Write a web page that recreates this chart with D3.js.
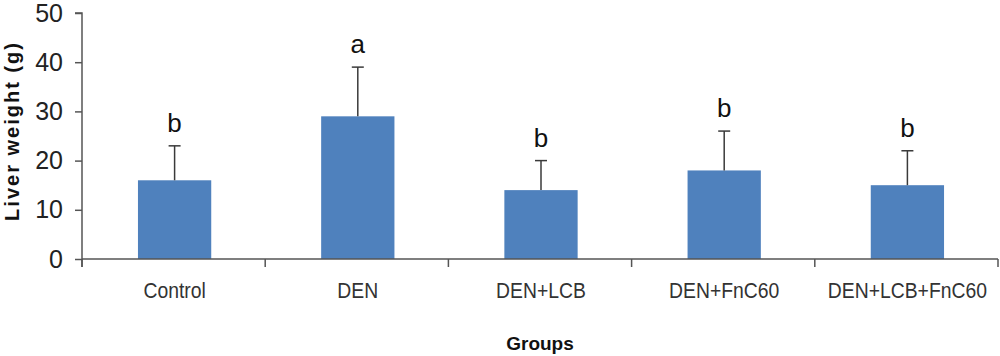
<!DOCTYPE html>
<html><head><meta charset="utf-8">
<script src="https://cdn.jsdelivr.net/npm/d3@7"></script>
<style>body{margin:0;background:#fff}svg{display:block}</style>
</head><body>
<svg id="c" width="1000" height="356"></svg>
<script>
const categories = ["Control","DEN","DEN+LCB","DEN+FnC60","DEN+LCB+FnC60"];
const means = [16, 29, 14, 18, 15];
const errors = [7, 10, 6, 8, 7];
const letters = ["b","a","b","b","b"];
const yTicks = [0,10,20,30,40,50];

const svg = d3.select("#c");
const m = {left:82, right:2, top:13, bottom:97};
const W = 1000, H = 356;
const x = d3.scaleBand().domain(categories).range([m.left, W-m.right]).padding(0);
const y = d3.scaleLinear().domain([0,50]).range([H-m.bottom, m.top]);
const axisCol = "#555";
const font = "'Liberation Sans',Arial,sans-serif";

// bars
const bw = x.bandwidth()*0.4;
svg.selectAll("rect.bar").data(categories).enter().append("rect")
  .attr("x", (d)=>x(d)+x.bandwidth()/2-bw/2+1)
  .attr("y", (d,i)=>y(means[i]))
  .attr("width", bw)
  .attr("height", (d,i)=>y(0)-y(means[i]))
  .attr("fill", "#4f81bd");

// error bars
const cx = d=>x(d)+x.bandwidth()/2+1;
const eg = svg.append("g").attr("stroke","#3a3a3a").attr("stroke-width",1.5);
categories.forEach((d,i)=>{
  eg.append("line").attr("x1",cx(d)).attr("x2",cx(d)).attr("y1",y(means[i])).attr("y2",y(means[i]+errors[i]));
  eg.append("line").attr("x1",cx(d)-6).attr("x2",cx(d)+6).attr("y1",y(means[i]+errors[i])).attr("y2",y(means[i]+errors[i]));
  svg.append("text").attr("x",cx(d)).attr("y",y(means[i]+errors[i])-14)
    .attr("text-anchor","middle").attr("font-family",font)
    .attr("font-size",26).attr("fill","#111").text(letters[i]);
});

// y axis
const ya = svg.append("g").attr("transform",`translate(${m.left},0)`)
  .call(d3.axisLeft(y).tickValues(yTicks).tickSize(7).tickPadding(12));
ya.select(".domain").attr("stroke",axisCol).attr("stroke-width",1.5).attr("d",`M-7,${y(50)}H0V${y(0)+8}`);
ya.selectAll(".tick line").attr("stroke",axisCol).attr("stroke-width",1.5);
ya.selectAll(".tick text").attr("font-family",font).attr("font-size",25).attr("fill","#222");

// x axis
const bounds = categories.map(d=>x(d)).concat([W-m.right]);
const xg = svg.append("g");
xg.append("line").attr("x1",m.left).attr("x2",W-m.right).attr("y1",y(0)).attr("y2",y(0)).attr("stroke",axisCol).attr("stroke-width",1.5);
bounds.forEach(b=>{
  xg.append("line").attr("x1",b).attr("x2",b).attr("y1",y(0)).attr("y2",y(0)+8).attr("stroke",axisCol).attr("stroke-width",1.5);
});
categories.forEach(d=>{
  xg.append("text").attr("transform",`translate(${x(d)+x.bandwidth()/2+1},${y(0)+39}) scale(0.88,1)`)
    .attr("text-anchor","middle").attr("font-family",font).attr("font-size",22).attr("fill","#333").text(d);
});

// axis titles
svg.append("text").attr("x",540).attr("y",350).attr("text-anchor","middle")
  .attr("font-family",font).attr("font-weight","bold").attr("font-size",19).attr("fill","#111").text("Groups");
svg.append("text").attr("transform","translate(19,131) rotate(-90)").attr("text-anchor","middle")
  .attr("font-family",font).attr("font-weight","bold").attr("font-size",20).attr("letter-spacing","2px").attr("fill","#111").text("Liver weight (g)");
</script>
</body></html>
